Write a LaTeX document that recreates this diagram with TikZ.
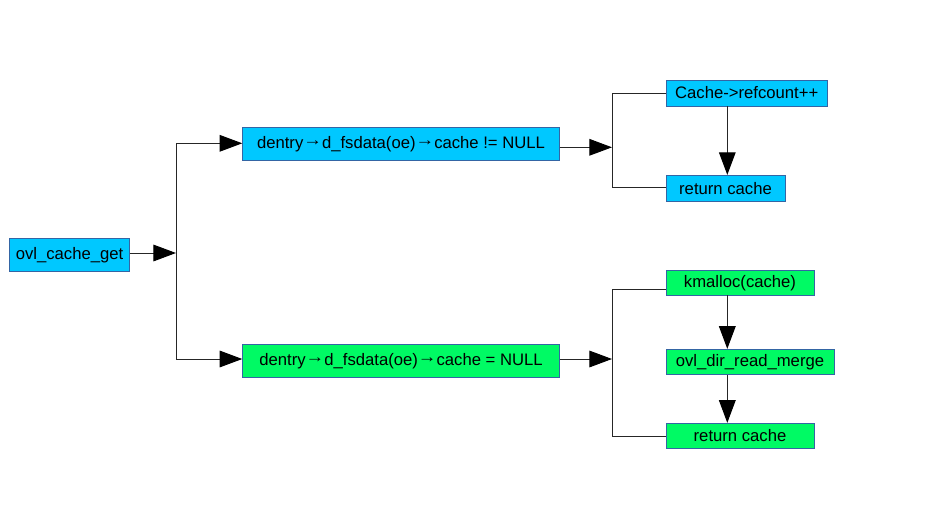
\documentclass[tikz,border=0pt]{standalone}
\usepackage{fontspec}
\usepackage{graphicx}
\setmainfont{Liberation Sans}
\usetikzlibrary{arrows.meta}
\definecolor{boxblue}{RGB}{0,200,255}
\definecolor{boxgreen}{RGB}{0,250,100}
\definecolor{boxline}{RGB}{52,101,164}
\newcommand{\myrarr}{\raisebox{0.32ex}{\scalebox{1.12}[1]{→}}}
\tikzset{
  box/.style={draw=boxline, line width=0.6pt, inner sep=0pt, font=\fontsize{12.5}{14}\selectfont, text=black},
  bluebox/.style={box, fill=boxblue},
  greenbox/.style={box, fill=boxgreen},
  conn/.style={draw=black!85, line width=0.75pt},
  arr/.style={conn, -{Triangle[length=17pt, width=12.5pt, color=black, fill=black]}},
}
\begin{document}
\begin{tikzpicture}[x=0.75pt, y=-0.75pt]
\useasboundingbox (0,0) rectangle (938,507);
% nodes
\node[bluebox, minimum width=89.8pt, minimum height=25pt] (get) at (69.5,254.8) {ovl\_cache\_get};
\node[bluebox, minimum width=237.5pt, minimum height=24.5pt] (b1) at (401,143.7) {dentry\myrarr d\_fsdata(oe)\myrarr cache != NULL};
\node[greenbox, minimum width=237.5pt, minimum height=24.5pt] (b2) at (401,360.7) {dentry\myrarr d\_fsdata(oe)\myrarr cache = NULL};
\node[bluebox, minimum width=121pt, minimum height=19.5pt] (rc) at (746.7,93) {Cache->refcount++};
\node[bluebox, minimum width=89.3pt, minimum height=19.3pt] (ret1) at (725.5,188.2) {return cache};
\node[greenbox, minimum width=111pt, minimum height=18.2pt] (km) at (740,282.9) {kmalloc(cache)};
\node[greenbox, minimum width=126pt, minimum height=18.8pt] (merge) at (750,361.8) {ovl\_dir\_read\_merge};
\node[greenbox, minimum width=111pt, minimum height=18.8pt] (ret2) at (740,435.8) {return cache};
% junction coordinates
\coordinate (j0m) at (176,253);
\coordinate (j0t) at (176,143.3);
\coordinate (j0b) at (176,359);
\coordinate (j1m) at (612,147.3);
\coordinate (j1t) at (612,93.3);
\coordinate (j1b) at (612,187.7);
\coordinate (j2m) at (612,359);
\coordinate (j2t) at (612,289.3);
\coordinate (j2b) at (612,436.7);
\coordinate (dx) at (727.3,0);
% connectors
\draw[arr] (get.east |- j0m) -- (j0m);
\draw[conn] (j0t) -- (j0b);
\draw[arr] (j0t) -- (b1.west |- j0t);
\draw[arr] (j0b) -- (b2.west |- j0b);
\draw[arr] (b1.east |- j1m) -- (j1m);
\draw[conn] (j1t) -- (j1b);
\draw[conn] (j1t) -- (rc.west |- j1t);
\draw[conn] (j1b) -- (ret1.west |- j1b);
\draw[arr] (b2.east |- j2m) -- (j2m);
\draw[conn] (j2t) -- (j2b);
\draw[conn] (j2t) -- (km.west |- j2t);
\draw[conn] (j2b) -- (ret2.west |- j2b);
\draw[arr] (rc.south -| dx) -- (ret1.north -| dx);
\draw[arr] (km.south -| dx) -- (merge.north -| dx);
\draw[arr] (merge.south -| dx) -- (ret2.north -| dx);
\end{tikzpicture}
\end{document}
